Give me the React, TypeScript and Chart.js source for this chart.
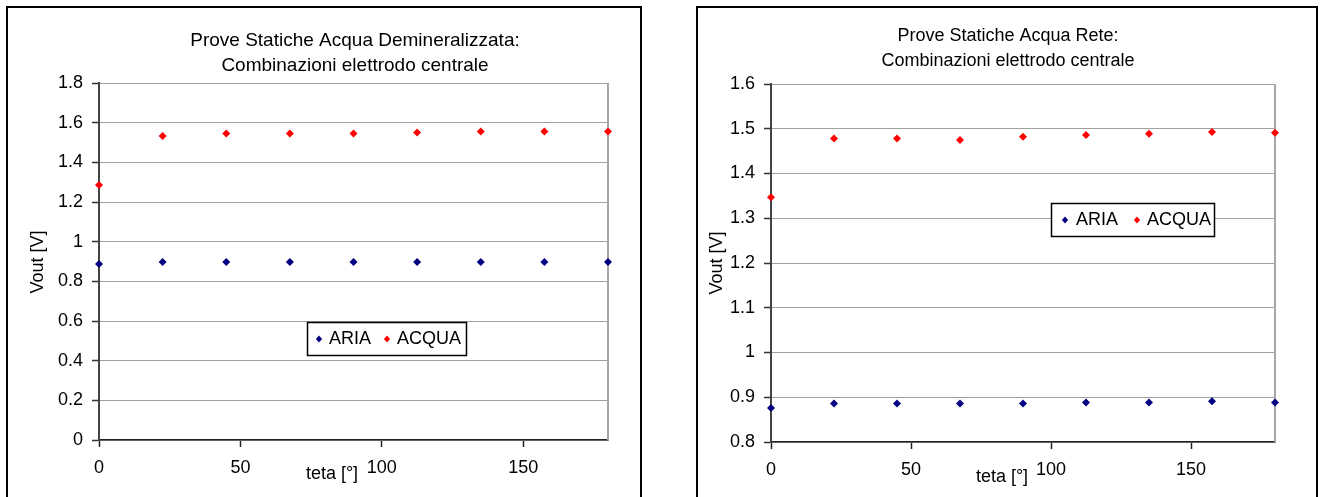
import React, { useEffect, useRef } from "react";
import { Chart, registerables } from "chart.js";

Chart.register(...registerables);

// ---------- data ----------
const angles = [0, 22.5, 45, 67.5, 90, 112.5, 135, 157.5, 180];
const seriesNames = ["ARIA", "ACQUA"];

const demiAria = [0.887, 0.897, 0.897, 0.897, 0.897, 0.897, 0.897, 0.897, 0.897];
const demiAcqua = [1.286, 1.533, 1.545, 1.545, 1.545, 1.551, 1.556, 1.556, 1.556];

const reteAria = [0.876, 0.886, 0.886, 0.886, 0.886, 0.888, 0.888, 0.891, 0.888];
const reteAcqua = [1.347, 1.478, 1.478, 1.475, 1.482, 1.486, 1.489, 1.493, 1.491];

const demiTitle = ["Prove Statiche Acqua Demineralizzata:", "Combinazioni elettrodo centrale"];
const reteTitle = ["Prove Statiche Acqua Rete:", "Combinazioni elettrodo centrale"];
const xAxisTitle = "teta [°]";
const yAxisTitle = "Vout [V]";

const xTickValues = [0, 50, 100, 150];
const xTickLabels = ["0", "50", "100", "150"];

const demiYTicks = [0, 0.2, 0.4, 0.6, 0.8, 1, 1.2, 1.4, 1.6, 1.8];
const demiYLabels = ["0", "0.2", "0.4", "0.6", "0.8", "1", "1.2", "1.4", "1.6", "1.8"];

const reteYTicks = [0.8, 0.9, 1, 1.1, 1.2, 1.3, 1.4, 1.5, 1.6];
const reteYLabels = ["0.8", "0.9", "1", "1.1", "1.2", "1.3", "1.4", "1.5", "1.6"];

const ariaColor = "#000080";
const acquaColor = "#ff0000";
const FONT_FAMILY = "'Liberation Sans', Arial, sans-serif";

type PanelCfg = {
  left: number;
  top: number;
  width: number;
  height: number;
  padTop: number;
  padRight: number;
  yWidth: number;
  xHeight: number;
  xMax: number;
  yMin: number;
  yMax: number;
  yTicks: number[];
  yLabels: string[];
  aria: number[];
  acqua: number[];
  title: string[];
  titleSize: number;
  titleX: number;
  titleY: number[];
  yTitlePos: [number, number];
  xTitlePos: [number, number];
  legendBox: [number, number, number, number];
  legendItemX: number[];
};

const panels: PanelCfg[] = [
  {
    left: 6,
    top: 6,
    width: 632,
    height: 489,
    padTop: 75,
    padRight: 32,
    yWidth: 91,
    xHeight: 57,
    xMax: 180,
    yMin: 0,
    yMax: 1.8,
    yTicks: demiYTicks,
    yLabels: demiYLabels,
    aria: demiAria,
    acqua: demiAcqua,
    title: demiTitle,
    titleSize: 19,
    titleX: 347,
    titleY: [33, 58],
    yTitlePos: [30, 254],
    xTitlePos: [324, 466],
    legendBox: [299, 314, 159, 33],
    legendItemX: [12, 22, 80, 90],
  },
  {
    left: 696,
    top: 6,
    width: 618,
    height: 489,
    padTop: 76,
    padRight: 41,
    yWidth: 73,
    xHeight: 55,
    xMax: 180,
    yMin: 0.8,
    yMax: 1.6,
    yTicks: reteYTicks,
    yLabels: reteYLabels,
    aria: reteAria,
    acqua: reteAcqua,
    title: reteTitle,
    titleSize: 18,
    titleX: 310,
    titleY: [28, 53],
    yTitlePos: [19, 255],
    xTitlePos: [304, 469],
    legendBox: [353, 195, 163, 33],
    legendItemX: [14, 25, 86, 96],
  },
];

function drawDiamond(ctx: CanvasRenderingContext2D, x: number, y: number, r: number, color: string) {
  ctx.save();
  ctx.fillStyle = color;
  ctx.beginPath();
  ctx.moveTo(x, y - r);
  ctx.lineTo(x + r * 0.9, y);
  ctx.lineTo(x, y + r);
  ctx.lineTo(x - r * 0.9, y);
  ctx.closePath();
  ctx.fill();
  ctx.restore();
}

const decorPlugin = {
  id: "decor",
  beforeDatasetsDraw(chart: any) {
    const { ctx, chartArea } = chart;
    ctx.save();
    ctx.strokeStyle = "#a6a6a6";
    ctx.lineWidth = 2;
    ctx.beginPath();
    ctx.moveTo(chartArea.right, chartArea.top);
    ctx.lineTo(chartArea.right, chartArea.bottom);
    ctx.stroke();
    ctx.restore();
  },
  afterDraw(chart: any, _args: any, opts: any) {
    const cfg: PanelCfg = opts.cfg;
    const ctx: CanvasRenderingContext2D = chart.ctx;
    ctx.save();
    ctx.fillStyle = "#000";
    ctx.textAlign = "center";
    ctx.textBaseline = "middle";
    ctx.font = `${cfg.titleSize}px ${FONT_FAMILY}`;
    cfg.title.forEach((line, i) => ctx.fillText(line, cfg.titleX, cfg.titleY[i]));

    ctx.font = `18px ${FONT_FAMILY}`;
    // x axis title
    ctx.fillText(xAxisTitle, cfg.xTitlePos[0], cfg.xTitlePos[1]);

    // y axis title
    ctx.save();
    ctx.translate(cfg.yTitlePos[0], cfg.yTitlePos[1]);
    ctx.rotate(-Math.PI / 2);
    ctx.fillText(yAxisTitle, 0, 0);
    ctx.restore();

    // legend
    const [lx, ly, lw, lh] = cfg.legendBox;
    ctx.fillStyle = "#fff";
    ctx.fillRect(lx, ly, lw, lh);
    ctx.strokeStyle = "#000";
    ctx.lineWidth = 1.5;
    ctx.strokeRect(lx + 0.5, ly + 0.5, lw, lh);
    const cy = ly + lh / 2 + 0.5;
    const colors = [ariaColor, acquaColor];
    ctx.textAlign = "left";
    seriesNames.forEach((name, i) => {
      drawDiamond(ctx, lx + cfg.legendItemX[i * 2], cy, 3.5, colors[i]);
      ctx.fillStyle = "#000";
      ctx.fillText(name, lx + cfg.legendItemX[i * 2 + 1], cy);
    });
    ctx.restore();
  },
};

function Panel({ cfg }: { cfg: PanelCfg }) {
  const ref = useRef<HTMLCanvasElement | null>(null);
  useEffect(() => {
    if (!ref.current) return;
    const tickFont = { family: FONT_FAMILY, size: 18 };
    const chart = new Chart(ref.current, {
      type: "scatter",
      data: {
        datasets: [
          {
            label: seriesNames[0],
            data: angles.map((a, i) => ({ x: a, y: cfg.aria[i] })),
            backgroundColor: ariaColor,
            borderColor: ariaColor,
            pointStyle: "rectRot",
            pointRadius: 4,
            pointBorderWidth: 0,
            clip: false as any,
          },
          {
            label: seriesNames[1],
            data: angles.map((a, i) => ({ x: a, y: cfg.acqua[i] })),
            backgroundColor: acquaColor,
            borderColor: acquaColor,
            pointStyle: "rectRot",
            pointRadius: 4,
            pointBorderWidth: 0,
            clip: false as any,
          },
        ],
      },
      options: {
        animation: false,
        responsive: false,
        devicePixelRatio: 1,
        layout: { padding: { top: cfg.padTop, right: cfg.padRight, bottom: 0, left: 0 } },
        plugins: {
          legend: { display: false },
          title: { display: false },
          tooltip: { enabled: false },
          decor: { cfg },
        } as any,
        scales: {
          x: {
            type: "linear",
            position: "bottom",
            min: 0,
            max: cfg.xMax,
            afterBuildTicks: (s: any) => {
              s.ticks = xTickValues.map((v) => ({ value: v }));
            },
            afterFit: (s: any) => {
              s.height = cfg.xHeight;
            },
            ticks: {
              font: tickFont,
              color: "#000",
              padding: 10,
              autoSkip: false,
              maxRotation: 0,
              callback: (_v: any, i: number) => xTickLabels[i],
            },
            grid: {
              drawOnChartArea: false,
              drawTicks: true,
              tickLength: 7,
              tickColor: "#222",
              tickWidth: 1.5,
            },
            border: { display: true, color: "#222", width: 1.5 },
          },
          y: {
            type: "linear",
            min: cfg.yMin,
            max: cfg.yMax,
            afterBuildTicks: (s: any) => {
              s.ticks = cfg.yTicks.map((v) => ({ value: v }));
            },
            afterFit: (s: any) => {
              s.width = cfg.yWidth;
            },
            ticks: {
              font: tickFont,
              color: "#000",
              padding: 9,
              autoSkip: false,
              callback: (_v: any, i: number) => cfg.yLabels[i],
            },
            grid: {
              color: "#a0a0a0",
              lineWidth: 1,
              drawTicks: true,
              tickLength: 7,
              tickColor: "#333",
              tickWidth: 1.5,
            },
            border: { display: true, color: "#444", width: 2 },
          },
        },
      } as any,
      plugins: [decorPlugin as any],
    });
    return () => chart.destroy();
  }, [cfg]);

  return (
    <div
      style={{
        position: "absolute",
        left: cfg.left,
        top: cfg.top,
        width: cfg.width,
        height: cfg.height + 10,
        border: "2px solid #000",
        background: "#fff",
      }}
    >
      <canvas
        ref={ref}
        width={cfg.width}
        height={cfg.height}
        style={{ display: "block", width: cfg.width, height: cfg.height }}
      />
    </div>
  );
}

export default function App() {
  return (
    <div
      style={{
        position: "fixed",
        left: 0,
        top: 0,
        width: 1320,
        height: 497,
        overflow: "hidden",
        background: "#fff",
      }}
    >
      {panels.map((p, i) => (
        <Panel key={i} cfg={p} />
      ))}
    </div>
  );
}
